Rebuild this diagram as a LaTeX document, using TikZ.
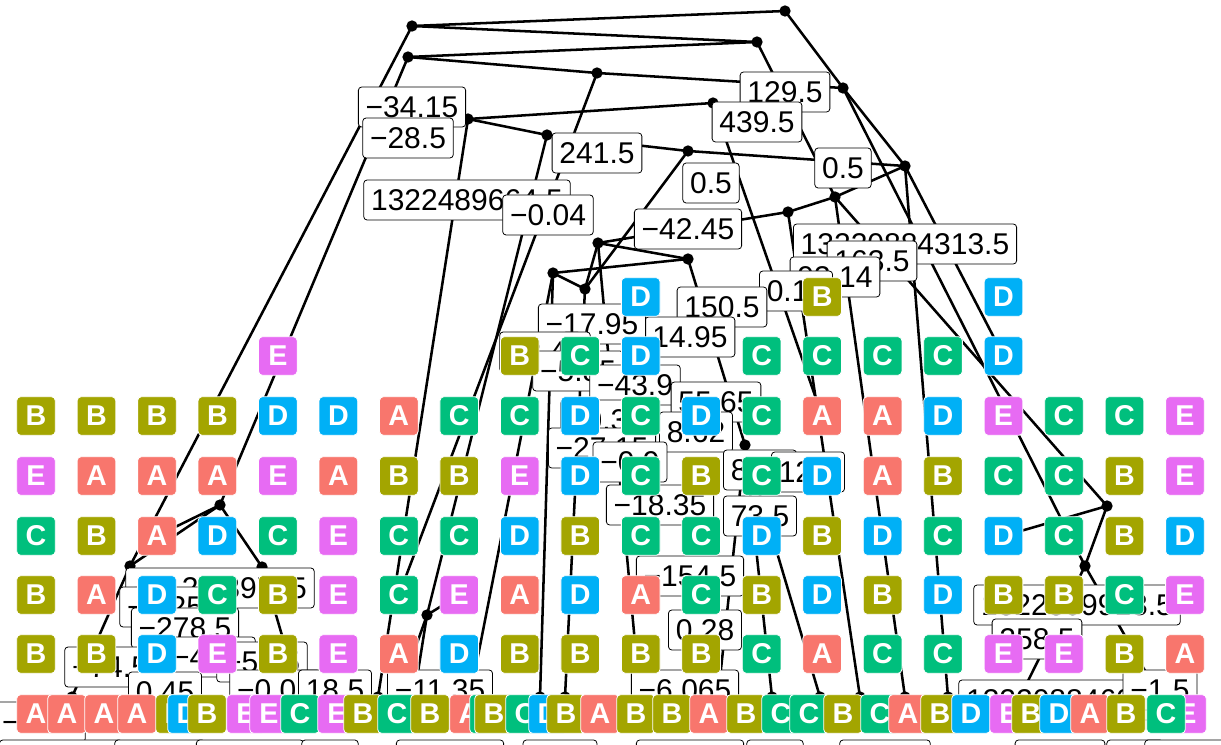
\documentclass[tikz,border=0pt]{standalone}
\usepackage{fontspec}
\setmainfont{Liberation Sans}
\usetikzlibrary{positioning}
\definecolor{cA}{HTML}{F8766D}
\definecolor{cB}{HTML}{A3A500}
\definecolor{cC}{HTML}{00BF7D}
\definecolor{cD}{HTML}{00B0F6}
\definecolor{cE}{HTML}{E76BF3}
\pgfdeclarelayer{edges}
\pgfsetlayers{edges,main}

\begin{document}
\begin{tikzpicture}[x=0.75pt,y=-0.75pt,
    edge/.style={line width=1.9pt},
    knot/.style={circle,fill=black,inner sep=0pt,minimum size=8.5pt},
    cut/.style={draw,fill=white,rounded corners=2.5pt,line width=0.6pt,
      font=\fontsize{22.5}{22.5}\selectfont,inner xsep=5.5pt,inner ysep=0pt,minimum height=30pt},
    leaf/.style={draw=white,line width=0.6pt,rounded corners=3pt,minimum size=29pt,
      inner sep=0pt,text=white,font=\fontsize{21.5}{21.5}\selectfont\bfseries}]
  \clip (0,0) rectangle (1221,745);

  % split points
  \node[knot] (n1) at (412,26) {};
  \node[knot] (n2) at (785,11) {};
  \node[knot] (n3) at (408,57) {};
  \node[knot] (n4) at (757,42) {};
  \node[knot] (n5) at (597,73) {};
  \node[knot] (n6) at (468,119) {};
  \node[knot] (n7) at (547,135) {};
  \node[knot] (n8) at (713,103) {};
  \node[knot] (n9) at (843,88) {};
  \node[knot] (n10) at (688,151) {};
  \node[knot] (n11) at (905,166) {};
  \node[knot] (n12) at (835,197) {};
  \node[knot] (n13) at (788,212) {};
  \node[knot] (n14) at (598,243) {};
  \node[knot] (n15) at (688,259) {};
  \node[knot] (n16) at (553,273) {};
  \node[knot] (n17) at (585,289) {};
  \node[knot] (m1) at (130,566) {};
  \node[knot] (m2) at (262,567) {};
  \node[knot] (m3) at (220,505) {};
  \node[knot] (m4) at (427,615) {};
  \node[knot] (m5) at (745,445) {};
  \node[knot] (m6) at (1107,506) {};
  \node[knot] (m7) at (1085,566) {};
  \foreach \xx [count=\i] in {72,182,378,398,414,470,540,565,718,772,860,905,948,300,1020,1160,640,820}
    \node[knot] (b\i) at (\xx,697) {};

  % split labels
  \node[cut] (s1) at (412,107) {−34.15};
  \node[cut] (s2) at (408,138) {−28.5};
  \node[cut] (s3) at (597,153) {241.5};
  \node[cut] (s4) at (785,92) {129.5};
  \node[cut] (s5) at (757,122) {439.5};
  \node[cut] (s6) at (711,183) {0.5};
  \node[cut] (s7) at (843,168) {0.5};
  \node[cut] (s8) at (467,200) {1322489664.5};
  \node[cut] (s9) at (548,215) {−0.04};
  \node[cut] (s10) at (688,229) {−42.45};
  \node[cut] (s11) at (905,244) {13220884313.5};
  \node[cut] (s12) at (872,261) {163.5};
  \node[cut] (s13) at (835,277) {93.14};
  \node[cut] (s14) at (796,291) {0.15};
  \node[cut] (s15) at (722,307) {150.5};
  \node[cut] (s16) at (690,337) {14.95};
  \node[cut] (s17) at (592,324) {−17.95};
  \node[cut] (s18) at (545,352) {−2.45};
  \node[cut] (s19) at (578,371) {−5.85};
  \node[cut] (s20) at (635,385) {−43.9};
  \node[cut] (s21) at (716,402) {55.65};
  \node[cut] (s22) at (606,420) {−0.35};
  \node[cut] (s23) at (696,432) {8.62};
  \node[cut] (s24) at (602,448) {−27.15};
  \node[cut] (s25) at (630,462) {−0.9};
  \node[cut] (s26) at (760,470) {84.5};
  \node[cut] (s27) at (808,472) {12.5};
  \node[cut] (s28) at (660,505) {−18.35};
  \node[cut] (s29) at (760,516) {73.5};
  \node[cut] (s30) at (690,576) {−154.5};
  \node[cut] (s31) at (705,630) {0.28};
  \node[cut] (s32) at (685,690) {−6.065};
  \node[cut] (s33) at (220,588) {−1126.39725};
  \node[cut] (s34) at (165,607) {−5.25};
  \node[cut] (s35) at (185,628) {−278.5};
  \node[cut] (s36) at (110,667) {−74.5};
  \node[cut] (s37) at (210,657) {−4.95};
  \node[cut] (s38) at (262,662) {−5.45};
  \node[cut] (s39) at (165,692) {0.45};
  \node[cut] (s40) at (275,690) {−0.05};
  \node[cut] (s41) at (335,690) {18.5};
  \node[cut] (s42) at (440,690) {−11.35};
  \node[cut] (s43) at (1077,605) {1322309913.5};
  \node[cut] (s44) at (1037,639) {258.5};
  \node[cut] (s45) at (1062,700) {1322088460.5};
  \node[cut] (s46) at (1160,690) {−1.5};
  \node[cut] (s47) at (40,722) {−12.5};
  \foreach \xx/\tx [count=\i] in {61/13220.5,160/−0.85,250/−20.45,330/5.5,450/−39.15,
      560/−2.5,690/−41.55,775/3.5,885/−9.45,1060/258.5,1135/6.5,1190/−1.05}
    \node[cut] (q\i) at (\xx,760) {\tx};

  % leaves
  \foreach \i/\lt in {10/D,13/B,16/D}
    \node[leaf,fill=c\lt] (ry\i) at ({36+60.47*\i},297) {\lt};
  \foreach \i/\lt in {4/E,8/B,9/C,10/D,12/C,13/C,14/C,15/C,16/D}
    \node[leaf,fill=c\lt] (rz\i) at ({36+60.47*\i},356) {\lt};
  \foreach \lt [count=\i from 0] in {B,B,B,B,D,D,A,C,C,D,C,D,C,A,A,D,E,C,C,E}
    \node[leaf,fill=c\lt] (ra\i) at ({36+60.47*\i},416) {\lt};
  \foreach \lt [count=\i from 0] in {E,A,A,A,E,A,B,B,E,D,C,B,C,D,A,B,C,C,B,E}
    \node[leaf,fill=c\lt] (rb\i) at ({36+60.47*\i},476) {\lt};
  \foreach \lt [count=\i from 0] in {C,B,A,D,C,E,C,C,D,B,C,C,D,B,D,C,D,C,B,D}
    \node[leaf,fill=c\lt] (rc\i) at ({36+60.47*\i},536) {\lt};
  \foreach \lt [count=\i from 0] in {B,A,D,C,B,E,C,E,A,D,A,C,B,D,B,D,B,B,C,E}
    \node[leaf,fill=c\lt] (rd\i) at ({36+60.47*\i},595) {\lt};
  \foreach \lt [count=\i from 0] in {B,B,D,E,B,E,A,D,B,B,B,B,C,A,C,C,E,E,B,A}
    \node[leaf,fill=c\lt] (re\i) at ({36+60.47*\i},654) {\lt};
  \foreach \xx/\lt [count=\i] in {36/A,67/A,104/A,137/A,175/B,187/D,207/B,246/E,269/E,300/C,
      337/E,363/B,397/C,430/B,469/A,489/C,494/B,525/C,548/D,566/B,600/A,636/B,672/B,709/A,
      746/B,781/C,809/C,843/B,880/C,908/A,940/B,971/D,1009/E,1031/B,1059/D,1090/A,1126/B,
      1187/E,1166/C}
    \node[leaf,fill=c\lt] (bt\i) at (\xx,714) {\lt};

  % connectors
  \begin{pgfonlayer}{edges}
    \foreach \a/\b in {n1/n2,n1/n4,n3/n4,n3/n5,n5/n9,n2/n9,n4/n12,n9/n11,n6/n8,n6/n7,
        n7/n10,n10/n11,n12/n11,n12/n13,n13/n14,n14/n15,n16/n15,n16/n17,n14/n17,n10/n17,
        n1/m1,n3/m3,m3/m1,m3/m2,m3/rc2,n6/b3,n7/m4,n5/rd6,m4/rd7,m4/b4,m4/b5,
        m1/b1,m1/b2,m2/b2,m2/b14,n16/b6,n16/b7,n17/b8,n14/b17,n15/m5,m5/b9,m5/b10,m5/b18,
        n8/ra13,n13/b11,n12/b12,n11/b13,n9/m7,n12/m6,m6/rc16,m6/m7,m7/b15,m7/b16,n11/rz16,
        b1/bt2,b1/bt3,b2/bt5,b2/bt7,b14/bt10,b3/bt13,b5/bt14,b6/bt15,b7/bt18,b8/bt20,
        b17/bt22,b9/bt24,b10/bt26,b18/bt28,b11/bt29,b12/bt30,b13/bt31,b15/bt33,b16/bt38}
      \draw[edge] (\a.center) -- (\b.center);
  \end{pgfonlayer}
\end{tikzpicture}
\end{document}
